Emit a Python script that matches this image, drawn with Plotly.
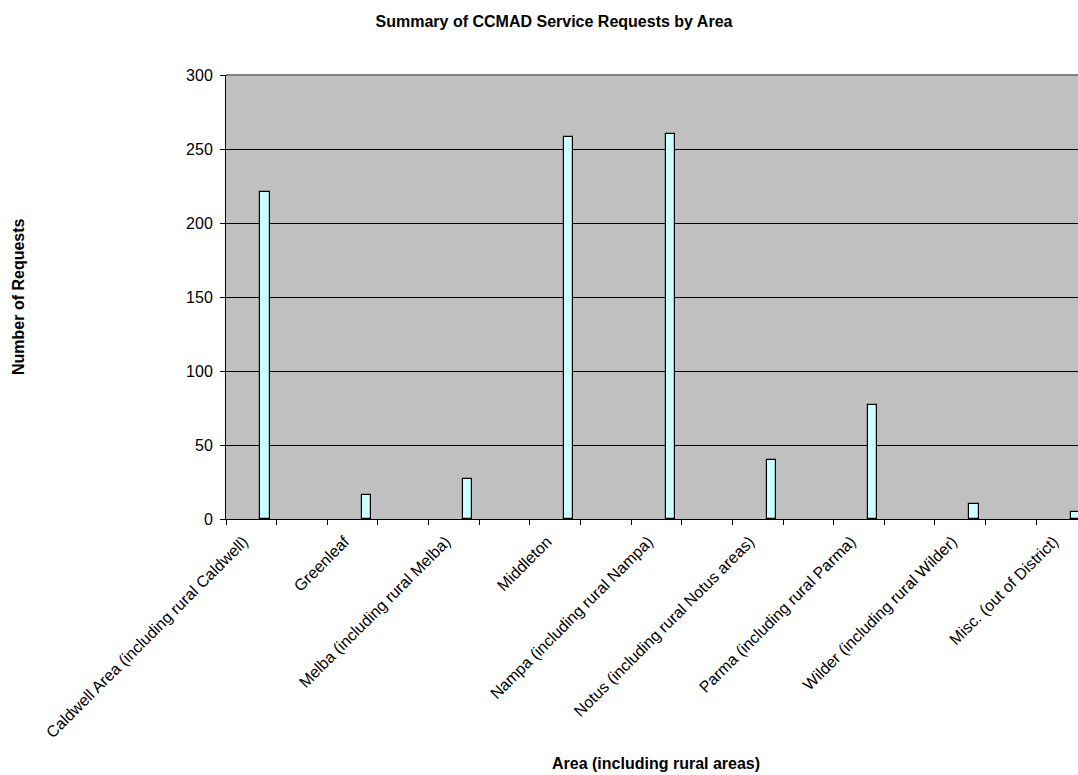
import plotly.graph_objects as go

# ---- data ----
areas = [
    "Caldwell Area (including rural Caldwell)",
    "Greenleaf",
    "Melba (including rural Melba)",
    "Middleton",
    "Nampa (including rural Nampa)",
    "Notus (including rural Notus areas)",
    "Parma (including rural Parma)",
    "Wilder (including rural Wilder)",
    "Misc. (out of District)",
]
requests = [221, 16, 27, 258, 260, 40, 77, 10, 5]
y_ticks = [0, 50, 100, 150, 200, 250, 300]

title_text = "Summary of CCMAD Service Requests by Area"
x_title = "Area (including rural areas)"
y_title = "Number of Requests"

# category slots: each area followed by an empty slot (as in the source sheet)
slots = []
for i, a in enumerate(areas):
    slots.append(a)
    slots.append(" " * (i + 1))

FONT = "Liberation Sans, Arial, sans-serif"

W, H = 1078, 775
L, R, T, B = 226, 0, 75, 256
PH = H - T - B

fig = go.Figure()
fig.add_trace(go.Bar(
    x=areas,
    y=requests,
    offset=0.18,
    width=0.18,
    marker=dict(color="#CCFFFF", line=dict(color="#000000", width=1.2)),
    hoverinfo="x+y",
))

fig.update_layout(
    width=W, height=H,
    margin=dict(l=L, r=R, t=T, b=B, pad=0),
    paper_bgcolor="#FFFFFF",
    plot_bgcolor="#C0C0C0",
    showlegend=False,
    bargap=0,
    font=dict(family=FONT, size=16, color="#000000"),
    title=dict(
        text="<b>" + title_text + "</b>",
        x=554 / W, xanchor="center",
        y=1 - 21 / H, yanchor="middle",
        font=dict(family=FONT, size=16, color="#000000"),
    ),
    xaxis=dict(
        type="category",
        categoryorder="array",
        categoryarray=slots,
        range=[-0.5, -0.5 + (W - L) / 50.64],
        tickmode="linear", tick0=0, dtick=1,
        tickson="boundaries",
        ticks="outside", ticklen=5, tickcolor="#000000", tickwidth=1,
        tickangle=-45,
        ticklabelstandoff=6,
        ticklabelshift=-8,
        tickfont=dict(family=FONT, size=16, color="#000000"),
        showline=True, linecolor="#000000", linewidth=1,
        showgrid=False, zeroline=False,
        fixedrange=True,
    ),
    yaxis=dict(
        range=[0, 300],
        tickmode="array", tickvals=y_ticks,
        ticks="outside", ticklen=5, tickcolor="#000000", tickwidth=1,
        ticklabelstandoff=4,
        tickfont=dict(family=FONT, size=16, color="#000000"),
        showline=True, linecolor="#000000", linewidth=1,
        showgrid=True, gridcolor="#000000", gridwidth=1,
        zeroline=False,
        fixedrange=True,
    ),
    shapes=[dict(
        type="line", xref="paper", yref="paper",
        x0=0, x1=1, y0=1, y1=1,
        line=dict(color="#808080", width=2), layer="below",
    )],
    annotations=[
        dict(
            text="<b>" + y_title + "</b>",
            xref="paper", yref="paper",
            x=(18 - L) / (W - L - R), y=0.5,
            xanchor="center", yanchor="middle",
            textangle=-90, showarrow=False,
            font=dict(family=FONT, size=16, color="#000000"),
        ),
        dict(
            text="<b>" + x_title + "</b>",
            xref="paper", yref="paper",
            x=(656 - L) / (W - L - R), y=-(763 - (H - B)) / PH,
            xanchor="center", yanchor="middle",
            showarrow=False,
            font=dict(family=FONT, size=16, color="#000000"),
        ),
    ],
)

fig.write_html("out.html")
